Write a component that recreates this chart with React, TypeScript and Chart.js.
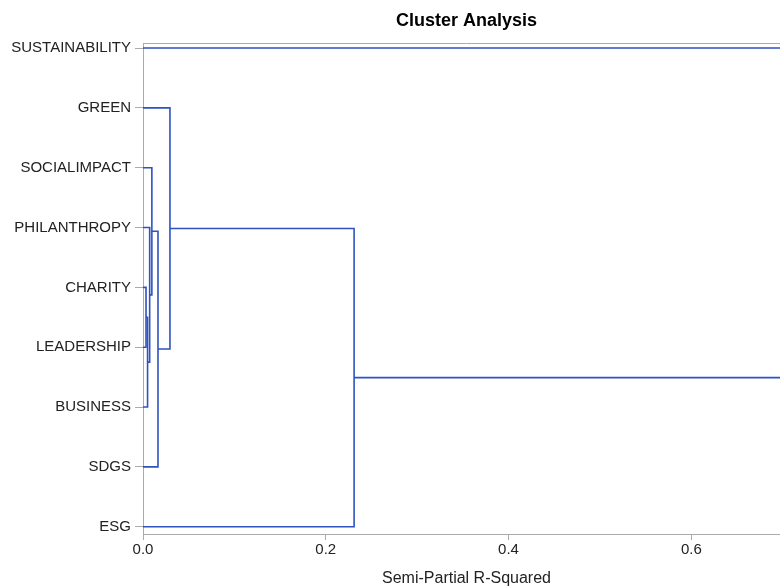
import React, { useEffect, useRef } from 'react';
import { Chart, registerables } from 'chart.js';

Chart.register(...registerables);

const titleText = 'Cluster Analysis';
const xAxisTitle = 'Semi-Partial R-Squared';

// leaves, top to bottom
const leafLabels = ['SUSTAINABILITY', 'GREEN', 'SOCIALIMPACT', 'PHILANTHROPY', 'CHARITY', 'LEADERSHIP', 'BUSINESS', 'SDGS', 'ESG'];

// merges: node ids 0-8 are leaves, merge k creates node 9+k
const mergeLeft = [4, 9, 3, 2, 12, 1, 14, 0];
const mergeRight = [5, 6, 10, 11, 7, 13, 8, 15];
const mergeHeight = [0.0033, 0.005, 0.0073, 0.0097, 0.0164, 0.0295, 0.231, 0.72];

const xTickValues = [0, 0.2, 0.4, 0.6];
const xMin = 0;
const xMax = 0.708;

const LINE_COLOR = '#2F52C0';
const AXIS_COLOR = '#ABABAB';
const TEXT_COLOR = '#222222';
const FONT_FAMILY = '"Liberation Sans", Arial, Helvetica, sans-serif';

function buildDatasets() {
  const nodeY: number[] = leafLabels.map((_, i) => i);
  const nodeH: number[] = leafLabels.map(() => 0);
  const datasets: any[] = [];
  mergeLeft.forEach((l, k) => {
    const r = mergeRight[k];
    const h = mergeHeight[k];
    datasets.push({
      label: 'm' + k,
      data: [
        { x: nodeH[l], y: nodeY[l] },
        { x: h, y: nodeY[l] },
        { x: h, y: nodeY[r] },
        { x: nodeH[r], y: nodeY[r] },
      ],
      showLine: true,
      borderColor: LINE_COLOR,
      borderWidth: 1.6,
      pointRadius: 0,
      pointHoverRadius: 0,
      tension: 0,
      fill: false,
    });
    nodeY.push((nodeY[l] + nodeY[r]) / 2);
    nodeH.push(h);
  });
  return datasets;
}

const framePlugin = {
  id: 'frameAndTitle',
  beforeDatasetsDraw(chart: any) {
    const { ctx, chartArea } = chart;
    ctx.save();
    ctx.strokeStyle = AXIS_COLOR;
    ctx.lineWidth = 1;
    const y = Math.round(chartArea.top) + 0.5;
    ctx.beginPath();
    ctx.moveTo(chartArea.left, y);
    ctx.lineTo(chartArea.right, y);
    ctx.stroke();
    ctx.restore();
  },
  afterDraw(chart: any) {
    const { ctx, chartArea } = chart;
    ctx.save();
    ctx.font = 'bold 18px ' + FONT_FAMILY;
    ctx.fillStyle = '#000000';
    ctx.textAlign = 'center';
    ctx.textBaseline = 'middle';
    ctx.fillText(titleText, (chartArea.left + chartArea.right) / 2, 21);
    ctx.restore();
  },
};

export default function App() {
  const canvasRef = useRef<HTMLCanvasElement | null>(null);

  useEffect(() => {
    if (!canvasRef.current) return;
    const chart = new Chart(canvasRef.current, {
      type: 'scatter',
      data: { datasets: buildDatasets() },
      options: {
        animation: false,
        responsive: false,
        events: [],
        layout: { padding: { top: 43, left: 0, right: 0, bottom: 0 } },
        plugins: {
          legend: { display: false },
          tooltip: { enabled: false },
          title: { display: false },
        },
        scales: {
          x: {
            type: 'linear',
            min: xMin,
            max: xMax,
            afterBuildTicks: (scale: any) => {
              scale.ticks = xTickValues.map((v) => ({ value: v }));
            },
            afterFit: (scale: any) => {
              scale.height = 54;
            },
            ticks: {
              callback: (v: any) => Number(v).toFixed(1),
              font: { family: FONT_FAMILY, size: 15 },
              color: TEXT_COLOR,
              padding: 1,
              maxRotation: 0,
            },
            grid: {
              display: true,
              drawOnChartArea: false,
              drawTicks: true,
              tickLength: 6,
              color: AXIS_COLOR,
            },
            border: { display: true, color: AXIS_COLOR, width: 1 },
            title: {
              display: true,
              text: xAxisTitle,
              font: { family: FONT_FAMILY, size: 16 },
              color: TEXT_COLOR,
              padding: { top: 4, bottom: 0 },
            },
          },
          y: {
            type: 'linear',
            reverse: true,
            min: -0.084,
            max: 8.122,
            afterBuildTicks: (scale: any) => {
              scale.ticks = leafLabels.map((_, i) => ({ value: i }));
            },
            afterFit: (scale: any) => {
              scale.width = 143;
            },
            ticks: {
              callback: (v: any) => leafLabels[Math.round(Number(v))] ?? '',
              font: { family: FONT_FAMILY, size: 15 },
              color: TEXT_COLOR,
              padding: 4,
            },
            grid: {
              display: true,
              drawOnChartArea: false,
              drawTicks: true,
              tickLength: 8,
              color: AXIS_COLOR,
            },
            border: { display: true, color: AXIS_COLOR, width: 1 },
          },
        },
      },
      plugins: [framePlugin],
    } as any);
    return () => chart.destroy();
  }, []);

  return (
    <div style={{ position: 'absolute', left: 0, top: 0, width: 780, height: 588, overflow: 'hidden', background: '#ffffff' }}>
      <canvas ref={canvasRef} width={790} height={588} style={{ display: 'block', width: 790, height: 588 }} />
    </div>
  );
}
